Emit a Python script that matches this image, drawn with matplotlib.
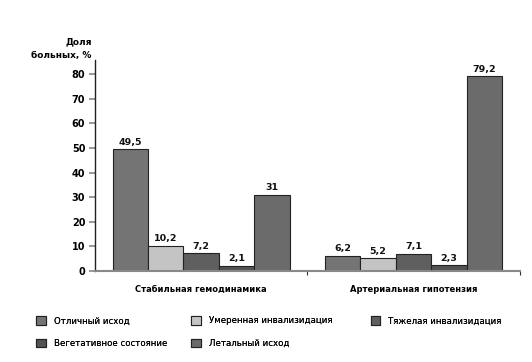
import matplotlib.pyplot as plt
import numpy as np

groups = ['Стабильная гемодинамика', 'Артериальная гипотензия']
series = ['Отличный исход', 'Умеренная инвализидация', 'Тяжелая инвализидация',
          'Вегетативное состояние', 'Летальный исход']
values = [
    [49.5, 6.2],
    [10.2, 5.2],
    [7.2, 7.1],
    [2.1, 2.3],
    [31, 79.2],
]
labels = [
    ['49,5', '6,2'],
    ['10,2', '5,2'],
    ['7,2', '7,1'],
    ['2,1', '2,3'],
    ['31', '79,2'],
]
colors = ['#747474', '#c4c4c4', '#5f5f5f', '#525252', '#6b6b6b']

plt.rcParams['font.family'] = ['DejaVu Sans']

fig = plt.figure(figsize=(5.32, 3.62), dpi=100)
ax = fig.add_axes([0.1786, 0.2514, 0.7984, 0.5826])

x = np.arange(len(groups))
w = 0.167
bars = []
for i, s in enumerate(series):
    b = ax.bar(x + (i - 2) * w, values[i], w, color=colors[i],
               edgecolor='#222222', linewidth=0.8, label=s)
    bars.append(b)
    for rect, lab in zip(b, labels[i]):
        ax.text(rect.get_x() + rect.get_width() / 2, rect.get_height() + 1.0, lab,
                ha='center', va='bottom', fontsize=6.8, fontweight='bold', color='#111111')

ax.set_xlim(-0.5, 1.5)
ax.set_ylim(0, 85.7)
ax.set_yticks(range(0, 81, 10))
ax.tick_params(axis='y', direction='out', length=4, color='#888888', width=1.2,
               labelsize=7, pad=3)
for t in ax.get_yticklabels():
    t.set_fontweight('bold')
ax.set_xticks(x)
ax.set_xticklabels(groups, fontsize=6.0, fontweight='bold')
ax.tick_params(axis='x', length=0, pad=10)
ax.set_xticks([0.5, 1.5], minor=True)
ax.tick_params(axis='x', which='minor', length=3, color='#333333', width=0.8)

for sp in ['top', 'right']:
    ax.spines[sp].set_visible(False)
ax.spines['left'].set_color('#222222')
ax.spines['left'].set_linewidth(1.0)
ax.spines['bottom'].set_color('#888888')
ax.spines['bottom'].set_linewidth(1.5)

fig.text(0.172, 0.835, 'Доля\nбольных, %', ha='right', va='bottom',
         fontsize=6.5, fontweight='bold', linespacing=1.6)

# legend: three columns placed by hand
cols = [[0, 3], [1, 4], [2]]
xpos = [0.062, 0.353, 0.69]
for c, xp in zip(cols, xpos):
    leg = fig.legend([bars[i] for i in c], [series[i] for i in c],
                     loc='upper left', bbox_to_anchor=(xp, 0.136), frameon=False,
                     fontsize=6.2, handlelength=1.15, handleheight=1.15,
                     handletextpad=0.9, labelspacing=1.55, borderaxespad=0)
    fig.add_artist(leg)

fig.savefig('out.png', dpi=100)
